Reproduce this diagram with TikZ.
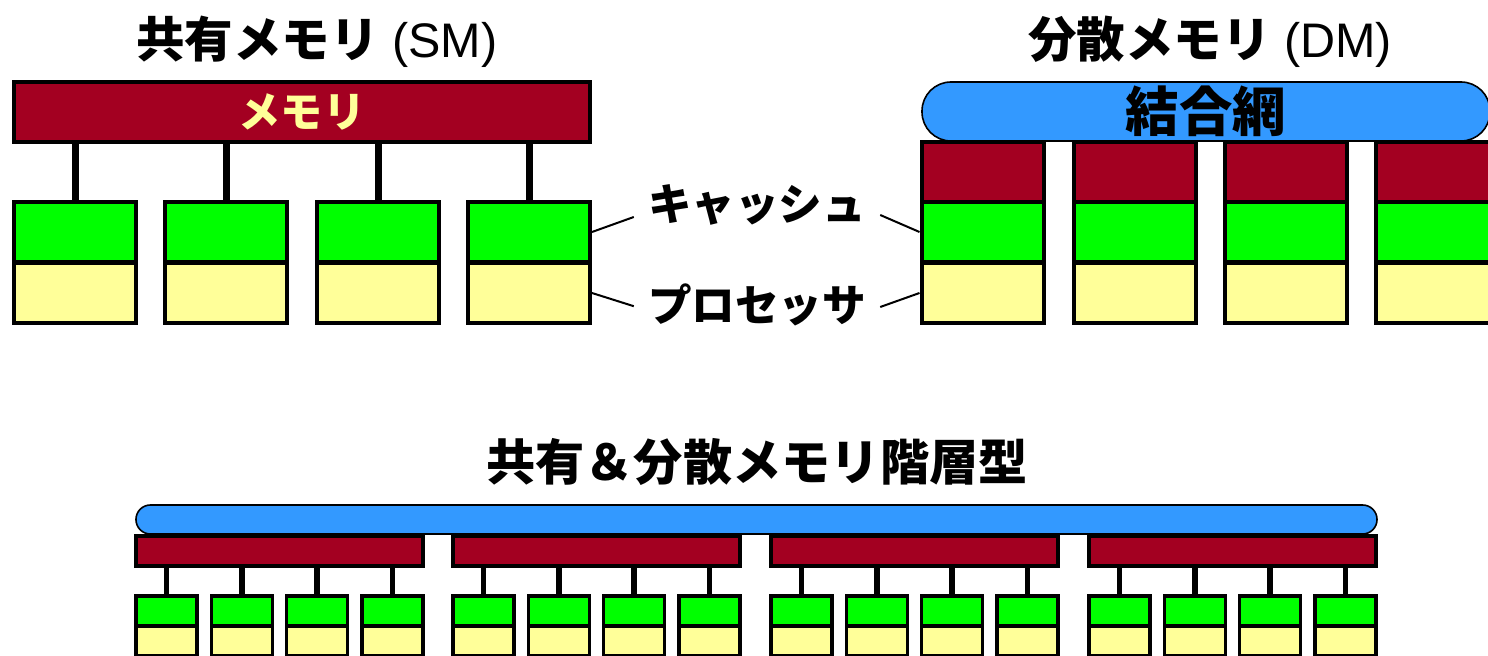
\documentclass[tikz,border=0pt]{standalone}
\usepackage{fontspec}
\setmainfont{Liberation Sans}
\newfontfamily\jp{Noto Sans CJK JP}[BoldFont={Noto Sans CJK JP Black}]
\usetikzlibrary{positioning}
\definecolor{memred}{HTML}{A30021}
\definecolor{cachegreen}{HTML}{00FF00}
\definecolor{procyellow}{HTML}{FFFF99}
\definecolor{netblue}{HTML}{3399FF}

\begin{document}
\begin{tikzpicture}[x=0.25mm,y=-0.25mm,
  unit/.style={draw=black,line width=1mm,inner sep=0pt,
    minimum width=30.5mm,minimum height=15mm},
  memunit/.style={unit,fill=memred},
  cacheunit/.style={unit,fill=cachegreen},
  procunit/.style={unit,fill=procyellow},
  smallunit/.style={draw=black,line width=0.9mm,inner sep=0pt,
    minimum width=15.25mm,minimum height=7.5mm},
  net/.style={draw=black,line width=0.4mm,fill=netblue,rounded corners=7.25mm,
    inner sep=0pt,minimum height=14.75mm},
  link/.style={line width=1.75mm},
  slink/.style={line width=1.4mm},
  pointer/.style={line width=0.5mm},
  title/.style={font=\fontsize{34.5}{40}\selectfont,inner sep=0pt},
  jplabel/.style={font=\jp\bfseries\fontsize{31}{36}\selectfont,inner sep=3.5mm}
]
\useasboundingbox (0,0) rectangle (1488,656);
\clip (0,0) rectangle (1488,656);

\node[title] (smtitle) at (317,42) {{\jp\bfseries 共有メモリ} (SM)};
\node[title] (dmtitle) at (1210,42) {{\jp\bfseries 分散メモリ} (DM)};

\node[memunit,minimum width=144mm,text=procyellow,
  font=\jp\bfseries\fontsize{30}{34}\selectfont] (mem) at (302,112) {メモリ};
\foreach \i/\x in {0/75,1/226,2/378,3/529} {
  \node[cacheunit] (c\i) at (\x,232) {};
  \node[procunit] (p\i) at (\x,293) {};
  \draw[link] (c\i.north) -- (c\i.north |- mem.south);
}

\node[net,minimum width=142mm,font=\jp\bfseries\fontsize{38}{42}\selectfont] (dnet) at (1206,111.5) {結合網};
\foreach \i/\x in {0/982.5,1/1134.5,2/1285.5,3/1437} {
  \node[memunit] (dm\i) at (\x,172) {};
  \node[cacheunit] (dc\i) at (\x,232) {};
  \node[procunit] (dp\i) at (\x,293) {};
}

\node[jplabel] (cachelbl) at (757,205) {キャッシュ};
\node[jplabel] (proclbl) at (757,305) {プロセッサ};
\draw[pointer] (c3.east) -- ([yshift=-3mm]cachelbl.west);
\draw[pointer] (dc0.west) -- ([yshift=-2.5mm]cachelbl.east);
\draw[pointer] (p3.east) -- ([yshift=-0.3mm]proclbl.west);
\draw[pointer] (dp0.west) -- ([yshift=-0.5mm]proclbl.east);

\node[title,font=\jp\bfseries\fontsize{35}{40}\selectfont] (hytitle) at (757,462) {共有＆分散メモリ階層型};
\node[net,rounded corners=3.6mm,minimum width=310.25mm,minimum height=7.25mm] (hnet) at (756.5,519.5) {};
\foreach \j/\g in {0/136,1/453,2/771,3/1089} {
  \node[smallunit,fill=memred,minimum width=71.75mm] (hm\j) at (\g+143.5,551) {};
  \foreach \k in {0,1,2,3} {
    \node[smallunit,fill=cachegreen] (hc\j\k) at (\g+30.5+\k*75.3,611) {};
    \node[smallunit,fill=procyellow] (hp\j\k) at (\g+30.5+\k*75.3,641) {};
    \draw[slink] (hc\j\k.north) -- (hc\j\k.north |- hm\j.south);
  }
}
\end{tikzpicture}
\end{document}
